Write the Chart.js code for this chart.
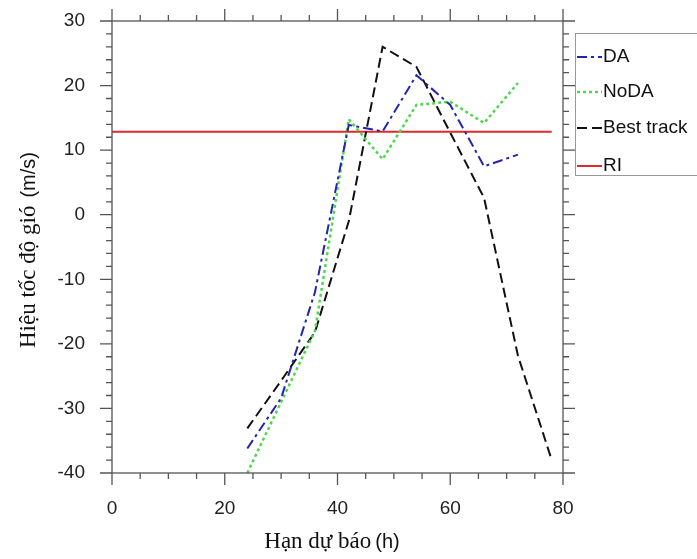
<!doctype html>
<html lang="vi">
<head>
  <meta charset="utf-8">
  <title>Hiệu tốc độ gió</title>
  <script src="https://cdn.jsdelivr.net/npm/chart.js"></script>
  <style>
    html, body { margin: 0; padding: 0; background: #fff; }
    #wrap { width: 697px; height: 559px; }
  </style>
</head>
<body>
<div id="wrap"><canvas id="myChart" width="697" height="559"></canvas></div>
<script>
// Hạn dự báo (h)
const gioDuBao = [24, 30, 36, 42, 48, 54, 60, 66, 72, 78];
// Hiệu tốc độ gió (m/s)
const daVals = [-36.2, -28.4, -12, 13.9, 12.9, 21.6, 17, 7.5, 9.3, null];
const nodaVals = [-40, -29, -18, 14.8, 8.6, 17, 17.5, 14.2, 20.4, null];
const bestVals = [-33.1, -25.7, -18.2, -1, 26, 22.9, 12.7, 2.6, -21.8, -38];
// nguong RI
const riX = [0, 78];
const riVals = [12.86, 12.86];

const xTicks = [0, 20, 40, 60, 80];
const yTicks = [-40, -30, -20, -10, 0, 10, 20, 30];

function toPts(xs, ys) {
  return xs.map((x, i) => ({ x: x, y: ys[i] })).filter(p => p.y !== null);
}

const SANS = '"Liberation Sans", Arial, sans-serif';
const SERIF = '"Liberation Serif", "Times New Roman", serif';

// truc, vach chia phu, tieu de truc, chu giai
const khungPlugin = {
  id: 'khung',
  afterDraw(chart) {
    const c = chart.ctx, a = chart.chartArea;
    const sx = chart.scales.x, sy = chart.scales.y;
    c.save();
    c.strokeStyle = '#555';
    c.lineWidth = 1.3;
    c.strokeRect(a.left, a.top, a.right - a.left, a.bottom - a.top);
    c.beginPath();
    for (let v = 0; v <= 80; v += 5) {
      const px = sx.getPixelForValue(v);
      const len = v % 20 === 0 ? 12 : 6;
      c.moveTo(px, a.bottom); c.lineTo(px, a.bottom + len);
      c.moveTo(px, a.top); c.lineTo(px, a.top - len);
    }
    for (let v = -40; v <= 30; v += 2) {
      const py = sy.getPixelForValue(v);
      const len = v % 10 === 0 ? 12 : 6;
      c.moveTo(a.left, py); c.lineTo(a.left - len, py);
      c.moveTo(a.right, py); c.lineTo(a.right + len, py);
    }
    c.stroke();

    // tieu de truc y
    c.fillStyle = '#111';
    c.save();
    c.translate(35, 250);
    c.rotate(-Math.PI / 2);
    c.font = '23px ' + SERIF;
    const t1 = 'Hiệu tốc độ gió';
    const w1 = c.measureText(t1).width;
    c.font = '20px ' + SANS;
    const t2 = '(m/s)';
    const w2 = c.measureText(t2).width;
    const gap = 8;
    let x0 = -(w1 + gap + w2) / 2;
    c.textBaseline = 'alphabetic';
    c.font = '23px ' + SERIF;
    c.fillText(t1, x0, 0);
    c.font = '20px ' + SANS;
    c.fillText(t2, x0 + w1 + gap, 0);
    c.restore();

    // tieu de truc x
    c.font = '23px ' + SERIF;
    const t3 = 'Hạn dự báo';
    const w3 = c.measureText(t3).width;
    c.font = '20px ' + SANS;
    const t4 = '(h)';
    const w4 = c.measureText(t4).width;
    let x1 = 332 - (w3 + 4 + w4) / 2;
    c.font = '23px ' + SERIF;
    c.fillText(t3, x1, 548);
    c.font = '20px ' + SANS;
    c.fillText(t4, x1 + w3 + 4, 548);

    // chu giai
    c.strokeStyle = '#999';
    c.lineWidth = 1;
    c.strokeRect(575.5, 33.5, 200, 142);
    c.font = '19px ' + SANS;
    c.textBaseline = 'middle';
    const rows = [57, 92, 128, 166];
    chart.data.datasets.forEach((ds, i) => {
      c.beginPath();
      c.strokeStyle = ds.borderColor;
      c.lineWidth = ds.borderWidth;
      c.setLineDash(ds.borderDash || []);
      c.moveTo(577, rows[i]); c.lineTo(602, rows[i]);
      c.stroke();
      c.setLineDash([]);
      c.fillStyle = '#111';
      c.fillText(ds.label, 603, rows[i]);
    });
    c.restore();
  }
};

const ctx = document.getElementById('myChart').getContext('2d');
const myChart = new Chart(ctx, {
  type: 'line',
  data: {
    datasets: [
      { label: 'DA', data: toPts(gioDuBao, daVals), borderColor: '#2424b0', borderWidth: 2, borderDash: [10, 4, 3, 4] },
      { label: 'NoDA', data: toPts(gioDuBao, nodaVals), borderColor: '#4cd84c', borderWidth: 2.5, borderDash: [3, 3] },
      { label: 'Best track', data: toPts(gioDuBao, bestVals), borderColor: '#111111', borderWidth: 2, borderDash: [10, 5] },
      { label: 'RI', data: toPts(riX, riVals), borderColor: '#dd2a2a', borderWidth: 2 }
    ]
  },
  options: {
    responsive: false,
    animation: false,
    devicePixelRatio: 1,
    elements: { point: { radius: 0 }, line: { tension: 0, fill: false } },
    layout: { padding: { top: 21, right: 134, left: 0, bottom: 0 } },
    plugins: { legend: { display: false }, tooltip: { enabled: false } },
    scales: {
      x: {
        type: 'linear', min: 0, max: 80,
        afterBuildTicks(s) { s.ticks = xTicks.map(v => ({ value: v })); },
        afterFit(s) { s.height = 86; s.paddingLeft = 0; s.paddingRight = 0; },
        ticks: { padding: 24, color: '#222', font: { family: SANS, size: 19 } },
        grid: { display: false, drawTicks: false },
        border: { display: false }
      },
      y: {
        min: -40, max: 30,
        afterBuildTicks(s) { s.ticks = yTicks.map(v => ({ value: v })); },
        afterFit(s) { s.width = 112; s.paddingTop = 0; s.paddingBottom = 0; },
        ticks: { padding: 27, color: '#222', font: { family: SANS, size: 19 } },
        grid: { display: false, drawTicks: false },
        border: { display: false }
      }
    }
  },
  plugins: [khungPlugin]
});
</script>
</body>
</html>
